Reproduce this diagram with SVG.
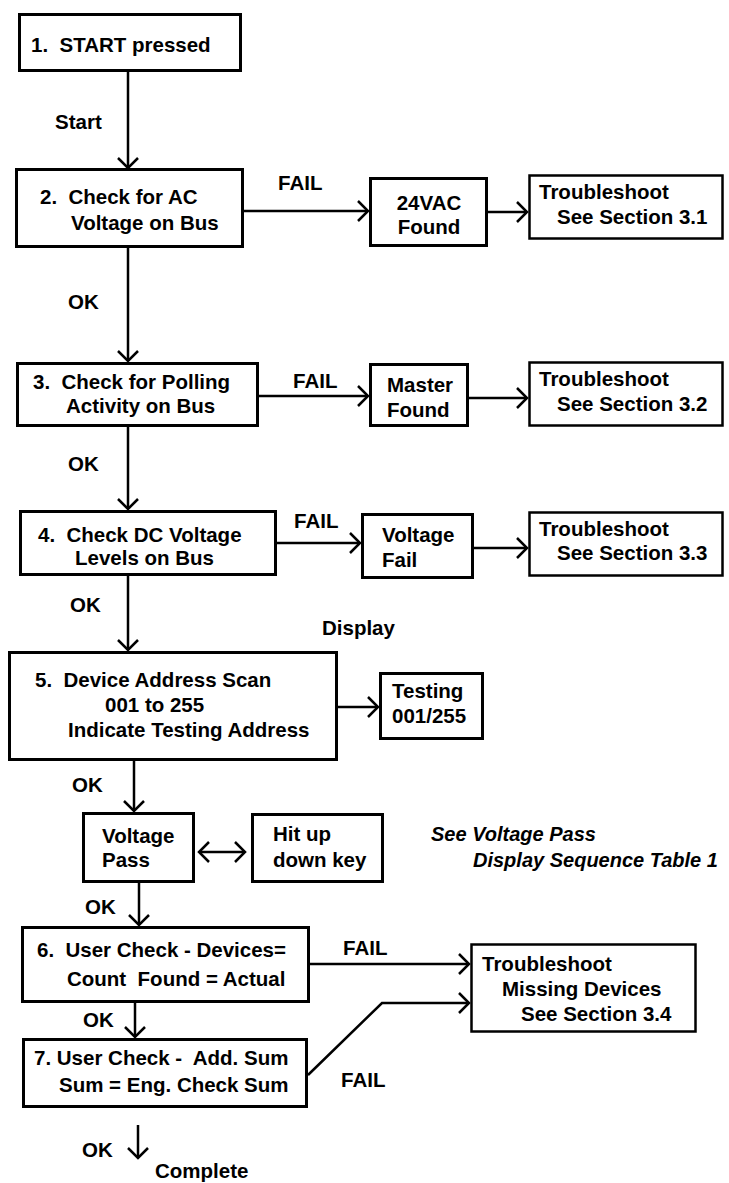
<svg xmlns="http://www.w3.org/2000/svg" width="729" height="1183" viewBox="0 0 729 1183">
<style>
text{font-family:"Liberation Sans",Arial,sans-serif;font-weight:bold;font-size:20.5px;fill:#000;white-space:pre}
.it{font-style:italic;font-size:20px}
.box{fill:#fff;stroke:#000;stroke-width:3}
.tb{fill:#fff;stroke:#000;stroke-width:2.5}
.ln{fill:none;stroke:#000;stroke-width:2.5}
</style>
<defs>
<marker id="ah" viewBox="0 0 14 24" refX="12" refY="12" markerWidth="14" markerHeight="24" markerUnits="userSpaceOnUse" orient="auto-start-reverse">
<path d="M2,2 L12,12 L2,22" fill="none" stroke="#000" stroke-width="2.5"/>
</marker>
</defs>
<rect width="729" height="1183" fill="#fff"/>
<g id="connectors">
<line class="ln" x1="128" y1="72" x2="128" y2="168" marker-end="url(#ah)"/>
<line class="ln" x1="244" y1="211" x2="368" y2="211" marker-end="url(#ah)"/>
<line class="ln" x1="488" y1="212" x2="527" y2="212" marker-end="url(#ah)"/>
<line class="ln" x1="128" y1="248" x2="128" y2="361" marker-end="url(#ah)"/>
<line class="ln" x1="259" y1="396" x2="368" y2="396" marker-end="url(#ah)"/>
<line class="ln" x1="469" y1="398" x2="527" y2="398" marker-end="url(#ah)"/>
<line class="ln" x1="128" y1="427" x2="128" y2="509" marker-end="url(#ah)"/>
<line class="ln" x1="277" y1="543" x2="360" y2="543" marker-end="url(#ah)"/>
<line class="ln" x1="474" y1="548" x2="527" y2="548" marker-end="url(#ah)"/>
<line class="ln" x1="128" y1="576" x2="128" y2="650" marker-end="url(#ah)"/>
<line class="ln" x1="338" y1="707" x2="378" y2="707" marker-end="url(#ah)"/>
<line class="ln" x1="134" y1="761" x2="134" y2="811" marker-end="url(#ah)"/>
<line class="ln" x1="199" y1="852" x2="245" y2="852" marker-start="url(#ah)" marker-end="url(#ah)"/>
<line class="ln" x1="139" y1="883" x2="139" y2="925" marker-end="url(#ah)"/>
<line class="ln" x1="310" y1="964" x2="469" y2="964" marker-end="url(#ah)"/>
<line class="ln" x1="135" y1="1003" x2="135" y2="1037" marker-end="url(#ah)"/>
<polyline class="ln" points="308,1075 382,1003 469,1003" marker-end="url(#ah)"/>
<line class="ln" x1="138" y1="1125" x2="138" y2="1158" marker-end="url(#ah)"/>
<text x="55" y="129">Start</text>
<text x="278" y="190">FAIL</text>
<text x="68" y="309">OK</text>
<text x="293" y="388">FAIL</text>
<text x="68" y="471">OK</text>
<text x="294" y="528">FAIL</text>
<text x="70" y="612">OK</text>
<text x="322" y="635">Display</text>
<text x="72" y="792">OK</text>
<text x="85" y="914">OK</text>
<text x="343" y="955">FAIL</text>
<text x="83" y="1027">OK</text>
<text x="341" y="1087">FAIL</text>
<text x="82" y="1157">OK</text>
<text x="155" y="1178">Complete</text>
</g>
<g id="n1"><rect class="box" x="19.5" y="14.5" width="221" height="56"/><text x="31" y="52">1.  START pressed</text></g>
<g id="n2"><rect class="box" x="16.5" y="169.5" width="226" height="77"/><text x="40" y="204">2.  Check for AC</text><text x="71" y="230">Voltage on Bus</text></g>
<g id="n2f"><rect class="box" x="370.5" y="178.5" width="116" height="67"/><text x="429" y="210" text-anchor="middle">24VAC</text><text x="429" y="234" text-anchor="middle">Found</text></g>
<g id="n2t"><rect class="tb" x="529.5" y="175.5" width="193" height="63"/><text x="539" y="199">Troubleshoot</text><text x="557" y="224">See Section 3.1</text></g>
<g id="n3"><rect class="box" x="17.5" y="363.5" width="240" height="62"/><text x="33" y="389">3.  Check for Polling</text><text x="66" y="413">Activity on Bus</text></g>
<g id="n3f"><rect class="box" x="370.5" y="364.5" width="97" height="61"/><text x="387" y="392">Master</text><text x="387" y="417">Found</text></g>
<g id="n3t"><rect class="tb" x="529.5" y="362.5" width="193" height="63"/><text x="539" y="386">Troubleshoot</text><text x="557" y="411">See Section 3.2</text></g>
<g id="n4"><rect class="box" x="20.5" y="511.5" width="255" height="63"/><text x="38" y="542">4.  Check DC Voltage</text><text x="75" y="565">Levels on Bus</text></g>
<g id="n4f"><rect class="box" x="362.5" y="514.5" width="110" height="63"/><text x="382" y="542">Voltage</text><text x="382" y="567">Fail</text></g>
<g id="n4t"><rect class="tb" x="529.5" y="512.5" width="193" height="63"/><text x="539" y="536">Troubleshoot</text><text x="557" y="560">See Section 3.3</text></g>
<g id="n5"><rect class="box" x="9.5" y="652.5" width="327" height="107"/><text x="35" y="687">5.  Device Address Scan</text><text x="105" y="712">001 to 255</text><text x="68" y="737">Indicate Testing Address</text></g>
<g id="n5t"><rect class="box" x="380.5" y="673.5" width="102" height="65"/><text x="392" y="698">Testing</text><text x="392" y="723">001/255</text></g>
<g id="vp"><rect class="box" x="83.5" y="813.5" width="110" height="68"/><text x="102" y="843">Voltage</text><text x="102" y="867">Pass</text></g>
<g id="hit"><rect class="box" x="252.5" y="814.5" width="130" height="67"/><text x="273" y="841">Hit up</text><text x="273" y="867">down key</text></g>
<g id="note"><text class="it" x="431" y="841">See Voltage Pass</text><text class="it" x="473" y="867">Display Sequence Table 1</text></g>
<g id="n6"><rect class="box" x="22.5" y="927.5" width="286" height="74"/><text x="37" y="957">6.  User Check - Devices=</text><text x="67" y="986">Count  Found = Actual</text></g>
<g id="n7"><rect class="box" x="23.5" y="1039.5" width="283" height="67"/><text x="34" y="1065">7. User Check -  Add. Sum</text><text x="59" y="1092">Sum = Eng. Check Sum</text></g>
<g id="n6t"><rect class="tb" x="471.5" y="944.5" width="224" height="87"/><text x="482" y="971">Troubleshoot</text><text x="502" y="996">Missing Devices</text><text x="521" y="1021">See Section 3.4</text></g>
</svg>
